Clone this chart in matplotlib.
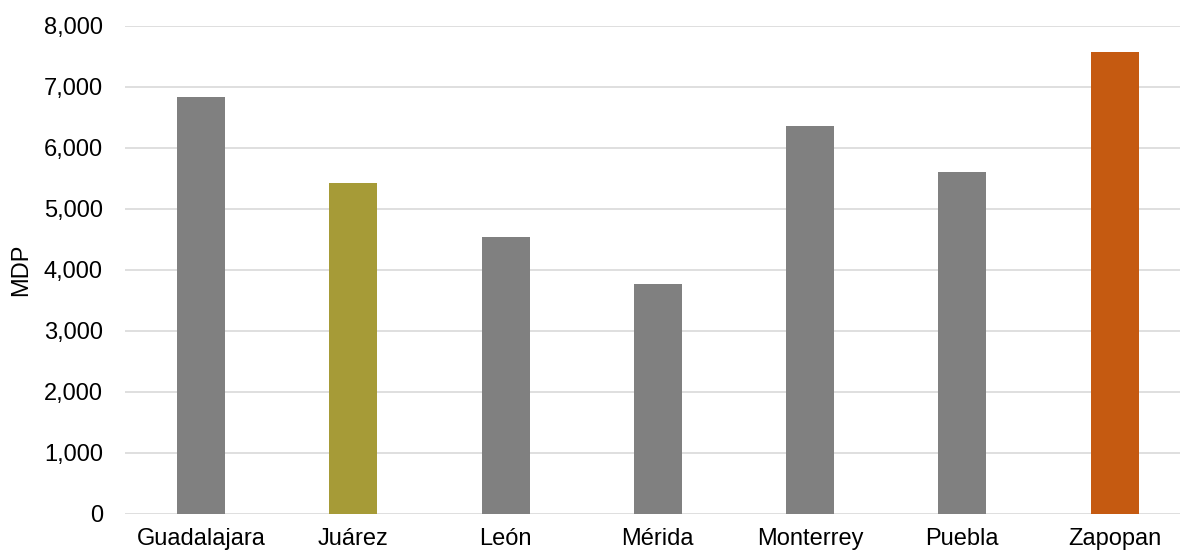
import matplotlib
matplotlib.use("Agg")
import matplotlib.pyplot as plt
from matplotlib.ticker import FuncFormatter

categories = ["Guadalajara", "Juárez", "León", "Mérida", "Monterrey", "Puebla", "Zapopan"]
values = [6820, 5418, 4533, 3762, 6352, 5598, 7566]
colors = ["#808080", "#A69B37", "#808080", "#808080", "#808080", "#808080", "#C55A11"]
yticks = [0, 1000, 2000, 3000, 4000, 5000, 6000, 7000, 8000]

plt.rcParams['font.family'] = ['Liberation Sans', 'DejaVu Sans']
fig = plt.figure(figsize=(11.8, 5.52), dpi=100)
ax = fig.add_axes([125/1180, 1 - 513.5/552, (1180-125)/1180, (513.5-25.5)/552])
x = list(range(len(categories)))
ax.bar(x, values, width=0.315, color=colors, zorder=3)
ax.set_xlim(-0.5, 6.43)
ax.set_ylim(0, 8000)
ax.set_yticks(yticks)
ax.yaxis.set_major_formatter(FuncFormatter(lambda v, p: f"{int(v):,}"))
ax.set_xticks(x)
ax.set_xticklabels(categories)
ax.grid(axis='y', color='#D9D9D9', linewidth=1.2, zorder=0)
for s in ax.spines.values():
    s.set_visible(False)
ax.tick_params(axis='both', length=0, labelsize=17, colors='black')
ax.tick_params(axis='y', pad=16)
ax.tick_params(axis='x', pad=10.5)
ax.set_ylabel("MDP", fontsize=17, labelpad=8)
fig.savefig("out.png", dpi=100)
